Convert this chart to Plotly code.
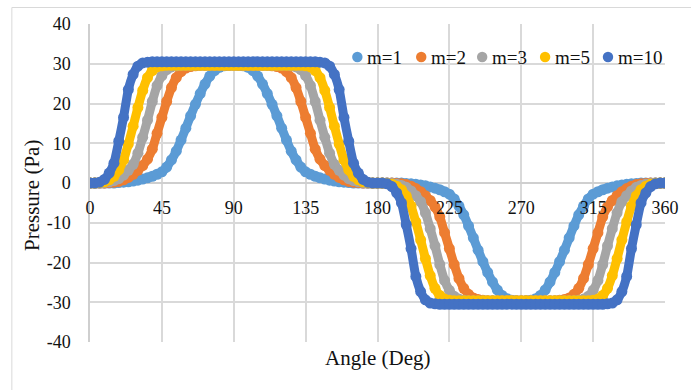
import plotly.graph_objects as go

# ---- data ----
angles = list(range(0, 361, 3))  # degrees, sampled every 3 deg

series_names = ["m=1", "m=2", "m=3", "m=5", "m=10"]
series_colors = ["#5B9BD5", "#ED7D31", "#A5A5A5", "#FFC000", "#4472C4"]

p_m1 = [0, 0, 0, 0, 0, 0, 0.1, 0.2, 0.3, 0.5, 0.7, 1.0, 1.3, 1.7, 2.2, 2.8, 4.0, 5.8, 8.0, 10.8, 13.8, 16.9, 19.8, 22.5, 24.9, 26.9, 28.3, 29.1, 29.5, 29.6, 29.7,
        29.6, 29.5, 29.1, 28.3, 26.9, 24.9, 22.5, 19.8, 16.9, 13.8, 10.8, 8.0, 5.8, 4.0, 2.8, 2.2, 1.7, 1.3, 1.0, 0.7, 0.5, 0.3, 0.2, 0.1, 0, 0, 0, 0, 0, 0,
        0, 0, 0, 0, 0, -0.1, -0.2, -0.3, -0.5, -0.7, -1.0, -1.3, -1.7, -2.2, -2.8, -4.0, -5.8, -8.0, -10.8, -13.8, -16.9, -19.8, -22.5, -24.9, -26.9, -28.3, -29.1, -29.5, -29.6, -29.7,
        -29.6, -29.5, -29.1, -28.3, -26.9, -24.9, -22.5, -19.8, -16.9, -13.8, -10.8, -8.0, -5.8, -4.0, -2.8, -2.2, -1.7, -1.3, -1.0, -0.7, -0.5, -0.3, -0.2, -0.1, 0, 0, 0, 0, 0, 0]

p_m2 = [0, 0, 0, 0, 0.1, 0.2, 0.4, 0.8, 1.4, 2.2, 3.2, 4.4, 6.0, 8.5, 12.5, 16.5, 20.5, 24.0, 26.5, 28.0, 28.9, 29.3, 29.5, 29.6, 29.6, 29.6, 29.6, 29.6, 29.6, 29.6, 29.6,
        29.6, 29.6, 29.6, 29.6, 29.6, 29.6, 29.6, 29.5, 29.3, 28.9, 28.0, 26.5, 24.0, 20.5, 16.5, 12.5, 8.5, 6.0, 4.4, 3.2, 2.2, 1.4, 0.8, 0.4, 0.2, 0.1, 0, 0, 0, 0,
        0, 0, 0, -0.1, -0.2, -0.4, -0.8, -1.4, -2.2, -3.2, -4.4, -6.0, -8.5, -12.5, -16.5, -20.5, -24.0, -26.5, -28.0, -28.9, -29.3, -29.5, -29.6, -29.6, -29.6, -29.6, -29.6, -29.6, -29.6, -29.6,
        -29.6, -29.6, -29.6, -29.6, -29.6, -29.6, -29.6, -29.5, -29.3, -28.9, -28.0, -26.5, -24.0, -20.5, -16.5, -12.5, -8.5, -6.0, -4.4, -3.2, -2.2, -1.4, -0.8, -0.4, -0.2, -0.1, 0, 0, 0, 0]

p_m3 = [0, 0, 0, 0.1, 0.3, 0.6, 1.1, 2.0, 3.2, 4.7, 7.5, 11.5, 15.8, 20.5, 24.5, 27.0, 28.5, 29.2, 29.5, 29.6, 29.6, 29.6, 29.6, 29.6, 29.6, 29.6, 29.6, 29.6, 29.6, 29.6, 29.6,
        29.6, 29.6, 29.6, 29.6, 29.6, 29.6, 29.6, 29.6, 29.6, 29.6, 29.6, 29.5, 29.2, 28.5, 27.0, 24.5, 20.5, 15.8, 11.5, 7.5, 4.7, 3.2, 2.0, 1.1, 0.6, 0.3, 0.1, 0, 0, 0,
        0, 0, -0.1, -0.3, -0.6, -1.1, -2.0, -3.2, -4.7, -7.5, -11.5, -15.8, -20.5, -24.5, -27.0, -28.5, -29.2, -29.5, -29.6, -29.6, -29.6, -29.6, -29.6, -29.6, -29.6, -29.6, -29.6, -29.6, -29.6, -29.6,
        -29.6, -29.6, -29.6, -29.6, -29.6, -29.6, -29.6, -29.6, -29.6, -29.6, -29.6, -29.5, -29.2, -28.5, -27.0, -24.5, -20.5, -15.8, -11.5, -7.5, -4.7, -3.2, -2.0, -1.1, -0.6, -0.3, -0.1, 0, 0, 0]

p_m5 = [0, 0, 0.1, 0.3, 0.8, 1.7, 3.3, 5.8, 9.8, 14.3, 19.0, 23.3, 26.5, 28.3, 29.2, 29.5, 29.6, 29.6, 29.6, 29.6, 29.6, 29.6, 29.6, 29.6, 29.6, 29.6, 29.6, 29.6, 29.6, 29.6, 29.6,
        29.6, 29.6, 29.6, 29.6, 29.6, 29.6, 29.6, 29.6, 29.6, 29.6, 29.6, 29.6, 29.6, 29.6, 29.5, 29.2, 28.3, 26.5, 23.3, 19.0, 14.3, 9.8, 5.8, 3.3, 1.7, 0.8, 0.3, 0.1, 0, 0,
        0, -0.1, -0.3, -0.8, -1.7, -3.3, -5.8, -9.8, -14.3, -19.0, -23.3, -26.5, -28.3, -29.2, -29.5, -29.6, -29.6, -29.6, -29.6, -29.6, -29.6, -29.6, -29.6, -29.6, -29.6, -29.6, -29.6, -29.6, -29.6, -29.6,
        -29.6, -29.6, -29.6, -29.6, -29.6, -29.6, -29.6, -29.6, -29.6, -29.6, -29.6, -29.6, -29.6, -29.6, -29.5, -29.2, -28.3, -26.5, -23.3, -19.0, -14.3, -9.8, -5.8, -3.3, -1.7, -0.8, -0.3, -0.1, 0, 0]

p_m10 = [0, 0, 0.2, 0.9, 2.5, 5.0, 10.5, 16.5, 23.5, 27.3, 29.4, 30.2, 30.4, 30.5, 30.5, 30.5, 30.5, 30.5, 30.5, 30.5, 30.5, 30.5, 30.5, 30.5, 30.5, 30.5, 30.5, 30.5, 30.5, 30.5, 30.5,
         30.5, 30.5, 30.5, 30.5, 30.5, 30.5, 30.5, 30.5, 30.5, 30.5, 30.5, 30.5, 30.5, 30.5, 30.5, 30.5, 30.5, 30.4, 30.2, 29.4, 27.3, 23.5, 16.5, 10.5, 5.0, 2.5, 0.9, 0.2, 0, 0,
         0, -0.2, -0.9, -2.5, -5.0, -10.5, -16.5, -23.5, -27.3, -29.4, -30.2, -30.4, -30.5, -30.5, -30.5, -30.5, -30.5, -30.5, -30.5, -30.5, -30.5, -30.5, -30.5, -30.5, -30.5, -30.5, -30.5, -30.5, -30.5, -30.5,
         -30.5, -30.5, -30.5, -30.5, -30.5, -30.5, -30.5, -30.5, -30.5, -30.5, -30.5, -30.5, -30.5, -30.5, -30.5, -30.5, -30.5, -30.4, -30.2, -29.4, -27.3, -23.5, -16.5, -10.5, -5.0, -2.5, -0.9, -0.2, 0, 0]

x_ticks = [0, 45, 90, 135, 180, 225, 270, 315, 360]
y_ticks = [-40, -30, -20, -10, 0, 10, 20, 30, 40]

x_title = "Angle (Deg)"
y_title = "Pressure (Pa)"

# ---- figure ----
W, H = 691, 390
ML, MR, MT, MB = 90, 16, 24, 48
PW, PH = W - ML - MR, H - MT - MB
FONT = "Liberation Serif"
TXT = "#111111"
GRID = "#D9D9D9"


def px_x(px):
    return (px - ML) / PW


def px_y(py):
    return (H - MB - py) / PH


fig = go.Figure()
all_series = [p_m1, p_m2, p_m3, p_m5, p_m10]
for name, vals, col in zip(series_names, all_series, series_colors):
    fig.add_trace(go.Scatter(
        x=angles, y=vals, name=name, mode="lines+markers",
        line=dict(color=col, width=9, shape="spline", smoothing=0.5),
        marker=dict(color=col, size=11),
        showlegend=False, hoverinfo="x+y+name",
    ))

shapes = [
    # outer chart frame (only its top and left edges fall inside the picture)
    dict(type="rect", xref="paper", yref="paper",
         x0=px_x(10.5), x1=2, y0=-2, y1=px_y(7.5),
         line=dict(color=GRID, width=1), fillcolor="rgba(0,0,0,0)", layer="below"),
]
annotations = [
    dict(text=x_title, xref="paper", yref="paper", x=px_x(382.5), y=px_y(358),
         xanchor="center", yanchor="middle", showarrow=False,
         font=dict(family=FONT, size=21, color=TXT)),
    dict(text=y_title, xref="paper", yref="paper", x=px_x(31), y=px_y(196),
         xanchor="center", yanchor="middle", showarrow=False, textangle=-90,
         font=dict(family=FONT, size=21, color=TXT)),
]

# compact legend, laid out like the reference
legend_px = [362, 427, 489, 553, 617]
legend_py = 57
r = 5.3
for name, col, lx in zip(series_names, series_colors, legend_px):
    shapes.append(dict(type="circle", xref="paper", yref="paper",
                       x0=px_x(lx - r), x1=px_x(lx + r),
                       y0=px_y(legend_py + r), y1=px_y(legend_py - r),
                       fillcolor=col, line=dict(color=col, width=0)))
    annotations.append(dict(text=name, xref="paper", yref="paper",
                            x=px_x(lx + 8), y=px_y(legend_py + 1),
                            xanchor="left", yanchor="middle", showarrow=False,
                            font=dict(family=FONT, size=19, color=TXT)))

fig.update_layout(
    width=W, height=H,
    margin=dict(l=ML, r=MR, t=MT, b=MB, pad=0),
    paper_bgcolor="white", plot_bgcolor="white",
    font=dict(family=FONT, color=TXT),
    showlegend=False,
    shapes=shapes, annotations=annotations,
    xaxis=dict(
        range=[0, 360], tickvals=x_ticks, ticktext=[str(v) for v in x_ticks],
        showgrid=True, gridcolor=GRID, gridwidth=1.5,
        zeroline=False, showline=False, ticks="",
        anchor="free", position=0.5, ticklabelstandoff=12,
        tickfont=dict(family=FONT, size=18, color=TXT),
    ),
    yaxis=dict(
        range=[-40, 40], tickvals=y_ticks, ticktext=[str(v) for v in y_ticks],
        showgrid=True, gridcolor=GRID, gridwidth=1.5,
        zeroline=True, zerolinecolor="#CFCFCF", zerolinewidth=1.5,
        showline=True, linecolor="#CFCFCF", linewidth=1.5, ticks="",
        ticklabelstandoff=14,
        tickfont=dict(family=FONT, size=18, color=TXT),
    ),
)

fig.write_html("out.html")
